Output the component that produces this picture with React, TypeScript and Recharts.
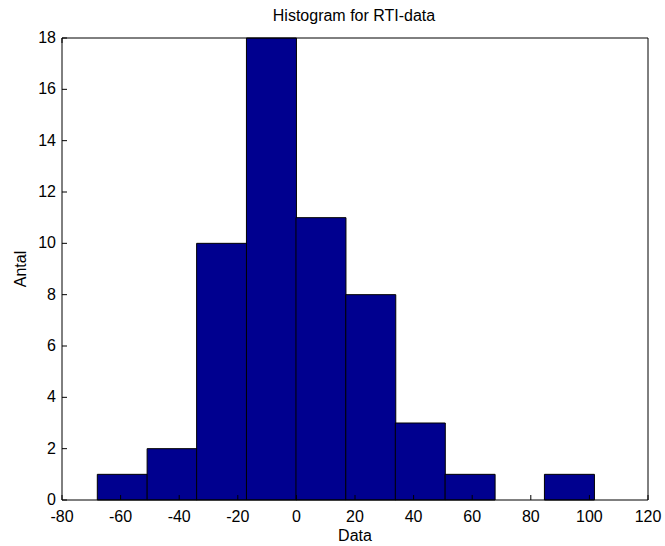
import React from "react";
import { ComposedChart, Bar, XAxis, YAxis, Label } from "recharts";

const binCenters = [-59.5, -42.5, -25.6, -8.6, 8.3, 25.3, 42.2, 59.2, 76.1, 93.1];
const counts = [1, 2, 10, 18, 11, 8, 3, 1, 0, 1];
const xTicks = [-80, -60, -40, -20, 0, 20, 40, 60, 80, 100, 120];
const yTicks = [0, 2, 4, 6, 8, 10, 12, 14, 16, 18];

const data = binCenters.map((c, i) => ({ center: c, count: counts[i] }));

const FONT = "Liberation Sans, Arial, sans-serif";
const FS = 16;
const TL = 5;

const BottomTick = (p: any) => (
  <g>
    <line x1={p.x} y1={p.y} x2={p.x} y2={p.y - TL} stroke="#000" />
    <text x={p.x} y={p.y + 22} textAnchor="middle" fontFamily={FONT} fontSize={FS} fill="#000">
      {p.payload.value}
    </text>
  </g>
);
const TopTick = (p: any) => (
  <line x1={p.x} y1={p.y} x2={p.x} y2={p.y + TL} stroke="#000" />
);
const LeftTick = (p: any) => (
  <g>
    <line x1={p.x} y1={p.y} x2={p.x + TL} y2={p.y} stroke="#000" />
    <text x={p.x - 6} y={p.y + 5} textAnchor="end" fontFamily={FONT} fontSize={FS} fill="#000">
      {p.payload.value}
    </text>
  </g>
);
const RightTick = (p: any) => (
  <line x1={p.x} y1={p.y} x2={p.x - TL} y2={p.y} stroke="#000" />
);

export default function App() {
  return (
    <div style={{ position: "absolute", left: 0, top: 0, background: "#fff" }}>
      <ComposedChart
        width={665}
        height={546}
        data={data}
        margin={{ top: 37, right: 16, bottom: 16, left: 0 }}
        barCategoryGap={0}
        barGap={0}
      >
        <text x={354} y={21} textAnchor="middle" fontFamily={FONT} fontSize={16} fill="#000">
          Histogram for RTI-data
        </text>
        <XAxis
          xAxisId="b"
          type="number"
          dataKey="center"
          domain={[-80, 120]}
          ticks={xTicks}
          interval={0}
          height={30}
          tickSize={0}
          tickMargin={0}
          axisLine={{ stroke: "#000" }}
          tickLine={false}
          tick={BottomTick}
          allowDataOverflow
        >
          <Label value="Data" position="bottom" offset={0} style={{ fill: "#000", fontFamily: FONT, fontSize: 16 }} />
        </XAxis>
        <XAxis
          xAxisId="t"
          orientation="top"
          type="number"
          domain={[-80, 120]}
          ticks={xTicks}
          interval={0}
          height={1}
          tickSize={0}
          tickMargin={0}
          axisLine={{ stroke: "#000" }}
          tickLine={false}
          tick={TopTick}
        />
        <YAxis
          yAxisId="l"
          domain={[0, 18]}
          ticks={yTicks}
          interval={0}
          width={62}
          tickSize={0}
          tickMargin={0}
          axisLine={{ stroke: "#000" }}
          tickLine={false}
          tick={LeftTick}
        >
          <Label value="Antal" angle={-90} position="insideLeft" offset={20} style={{ fill: "#000", fontFamily: FONT, fontSize: 16, textAnchor: "middle" }} />
        </YAxis>
        <YAxis
          yAxisId="r"
          orientation="right"
          domain={[0, 18]}
          ticks={yTicks}
          interval={0}
          width={1}
          tickSize={0}
          tickMargin={0}
          axisLine={{ stroke: "#000" }}
          tickLine={false}
          tick={RightTick}
        />
        <Bar
          xAxisId="b"
          yAxisId="l"
          dataKey="count"
          fill="#00008f"
          stroke="#000"
          strokeWidth={1}
          isAnimationActive={false}
        />
      </ComposedChart>
    </div>
  );
}
